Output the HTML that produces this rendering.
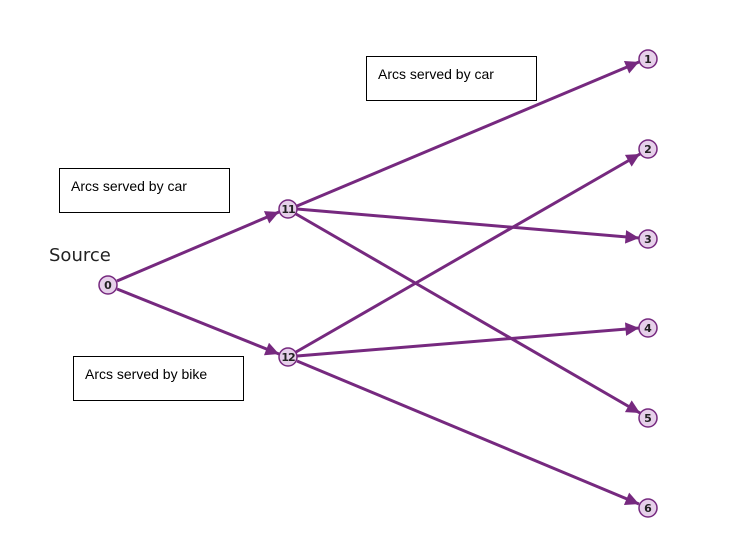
<!DOCTYPE html>
<html><head><style>body{margin:0;background:#fff}svg{display:block}</style></head><body>
<svg width="742" height="537" viewBox="0 0 742 537" xmlns="http://www.w3.org/2000/svg">
<defs><marker id="a" viewBox="0 0 10 10" refX="10" refY="5" markerWidth="5" markerHeight="4.5" orient="auto" markerUnits="strokeWidth"><path d="M0,0L10,5L0,10z" fill="#76297f"/></marker></defs>
<g fill="none" stroke-width="1"><rect x="366.5" y="56.5" width="170" height="44" stroke="#000"/><rect x="59.5" y="168.5" width="170" height="44" stroke="#000"/><rect x="73.5" y="356.5" width="170" height="44" stroke="#000"/></g>
<g font-family="Liberation Sans, sans-serif" font-size="14" fill="#000"><text x="378" y="79">Arcs served by car</text><text x="71" y="191">Arcs served by car</text><text x="85" y="379">Arcs served by bike</text></g>
<text x="49" y="261" font-family="DejaVu Sans, sans-serif" font-size="18" fill="#222">Source</text>
<g stroke="#76297f" stroke-width="3" marker-end="url(#a)">
<line x1="117" y1="281" x2="279" y2="212"/>
<line x1="117" y1="289" x2="279" y2="354"/>
<line x1="297" y1="206" x2="639" y2="62"/>
<line x1="297" y1="209" x2="639" y2="238"/>
<line x1="296" y1="214" x2="640" y2="413"/>
<line x1="296" y1="352" x2="640" y2="154"/>
<line x1="297" y1="356" x2="639" y2="328"/>
<line x1="297" y1="361" x2="639" y2="504"/>
</g>
<g fill="#e6d0ea" stroke="#76297f" stroke-width="1.5">
<circle cx="108" cy="285" r="9"/><circle cx="288" cy="209" r="9"/><circle cx="288" cy="357" r="9"/>
<circle cx="648" cy="59" r="9"/><circle cx="648" cy="149" r="9"/><circle cx="648" cy="239" r="9"/><circle cx="648" cy="328" r="9"/><circle cx="648" cy="418" r="9"/><circle cx="648" cy="508" r="9"/>
</g>
<g font-family="DejaVu Sans, sans-serif" font-size="11" font-weight="bold" fill="#222" text-anchor="middle">
<text x="108" y="289">0</text><text x="288" y="213" letter-spacing="-1">11</text><text x="288" y="361" letter-spacing="-1">12</text>
<text x="648" y="63">1</text><text x="648" y="153">2</text><text x="648" y="243">3</text><text x="648" y="332">4</text><text x="648" y="422">5</text><text x="648" y="512">6</text>
</g>
</svg>
</body></html>
